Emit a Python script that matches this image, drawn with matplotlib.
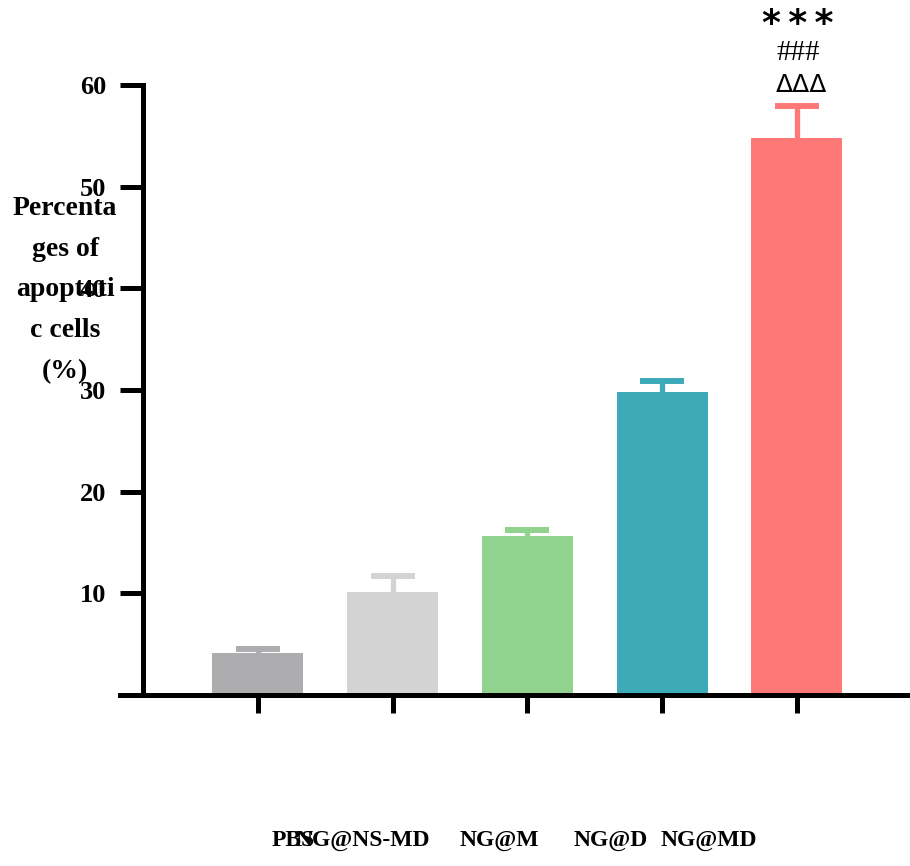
import numpy as np
import matplotlib
matplotlib.use('Agg')
import matplotlib.pyplot as plt
from matplotlib.transforms import blended_transform_factory

groups = ['PBS', 'NG@NS-MD', 'NG@M', 'NG@D', 'NG@MD']
means = [4.1, 10.1, 15.6, 29.8, 54.8]
errs = [0.4, 1.6, 0.6, 1.1, 3.1]
colors = ['#ADADAF', '#D3D3D3', '#90D28E', '#3CAAB7', '#FF7878']
yticks = [10, 20, 30, 40, 50, 60]
sig_marks = ['*\u2009*\u2009*', '###', '\u0394\u0394\u0394']

# where the group names sit along x (they drift off the ticks)
label_x = [0.26, 0.78, 1.79, 2.62, 3.35]

plt.rcParams['font.family'] = ['Liberation Serif', 'DejaVu Serif']

fig = plt.figure(figsize=(9.10, 8.66), dpi=100)
ax = fig.add_axes([120/910, 171/866, 790/910, 610/866])

x = np.arange(len(groups))
ax.bar(x, means, width=0.675, color=colors, zorder=2)
# symmetric bars drawn under the columns so only the upper half shows
for xi, m, e, c in zip(x, means, errs, colors):
    ax.errorbar(xi, m, yerr=e, fmt='none', ecolor=c, elinewidth=3.8,
                capsize=16, capthick=4.3, zorder=1)

ax.set_xlim(-1.024, 4.84)
ax.set_ylim(0, 60)

for s in ['top', 'right']:
    ax.spines[s].set_visible(False)
ax.spines['left'].set_position(('data', -0.853))
ax.spines['left'].set_linewidth(3.6)
ax.spines['bottom'].set_linewidth(3.6)
ax.spines['left'].set_bounds(0, 60)

ax.set_yticks(yticks)
ax.set_yticklabels([str(t) for t in yticks], fontsize=19, fontweight='bold')
ax.tick_params(axis='y', length=16.5, width=3.6, pad=10)
ax.set_xticks(x)
ax.set_xticklabels([])
ax.tick_params(axis='x', length=13, width=3.6)

trans = blended_transform_factory(ax.transData, ax.transAxes)
for lx, g in zip(label_x, groups):
    ax.text(lx, -0.238, g, transform=trans, ha='center', va='center',
            fontsize=17, fontweight='bold')

fig.text(65/910, 1 - 290/866, 'Percenta\nges of\napoptoti\nc cells\n(%)',
         ha='center', va='center', fontsize=20, fontweight='bold',
         linespacing=1.84)

# significance marks above the NG@MD column
fig.text(798/910, 1 - 34/866, sig_marks[0], ha='center', va='baseline',
         fontsize=26, family='DejaVu Sans', fontweight='bold')
fig.text(798/910, 1 - 53/866, sig_marks[1], ha='center', va='center',
         fontsize=21)
fig.text(801/910, 1 - 85/866, sig_marks[2], ha='center', va='center',
         fontsize=18, family='DejaVu Sans')

fig.savefig('out.png', dpi=100)
